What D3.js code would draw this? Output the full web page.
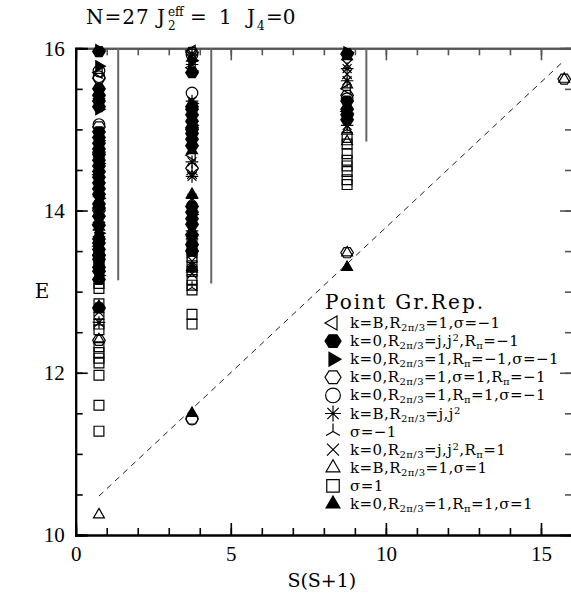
<!DOCTYPE html>
<html>
<head>
<meta charset="utf-8">
<script src="https://cdn.jsdelivr.net/npm/d3@7"></script>
<style>
  body { margin: 0; background: #fff; }
  svg { display: block; }
</style>
</head>
<body>
<div id="chart"></div>
<script>
// S(S+1) for S = 1/2, 3/2, 5/2, 7/2
const sValues = [0.75, 3.75, 8.75, 15.75];

// energies per S column, one array per symmetry sector
const kB_R1_sigM = [[15.7, 14.44, 13.56, 13.83], [15.97, 15.76, 14.68], [15.5, 15.22], []];
const k0_Rj_RpiM = [
  [15.96, 15.5, 15.42, 15.35, 15.28, 14.97, 14.9, 14.83, 14.76, 14.69, 14.62, 14.55, 14.48, 14.41,
   14.34, 14.27, 14.2, 14.08, 14.03, 13.93, 13.82, 13.65, 13.6, 13.52, 13.45, 13.4, 13.3, 13.25, 13.15, 12.8],
  [15.7, 15.28, 15.25, 15.18, 15.1, 15.02, 14.95, 14.88, 14.8, 14.05, 13.98, 13.9, 13.83, 13.7, 13.58, 13.5],
  [15.93, 15.35, 15.25, 15.18, 15.12], []];
const k0_R1_RpiM_sigM = [[15.98, 15.78, 15.25, 14.86, 14.58, 14.15, 13.72, 13.2], [15.85, 15.72, 15.32, 15.05, 13.95], [15.95, 15.2], []];
const k0_R1_sigP_RpiM = [[15.63, 15.03, 14.72, 14.0, 13.45, 12.4], [15.95, 15.0, 14.52, 11.43], [15.42, 13.48], [15.62]];
const k0_R1_RpiP_sigM = [[15.72, 15.65, 15.06], [15.92, 15.45, 11.43], [15.38], []];
const kB_Rj = [[15.38, 14.17, 14.02, 13.85, 13.76, 13.68, 12.62], [15.93, 15.8, 15.35, 14.6, 14.42, 14.15, 13.75, 13.65], [15.75, 15.6, 15.05], []];
const sigM = [[14.3, 13.9, 13.72, 12.78], [14.48, 14.12, 13.45, 13.05], [15.0], []];
const k0_Rj_RpiP = [[14.52, 14.38, 14.12, 13.97, 13.88, 13.78, 12.75], [15.9, 14.45, 13.78, 13.38, 13.22], [15.8, 15.68], []];
const kB_R1_sigP = [[15.45, 13.8, 12.41, 10.25], [15.88, 13.72, 13.3], [15.55, 14.98, 14.85, 13.48], [15.62]];
const sigP = [
  [13.45, 13.38, 13.34, 13.1, 13.04, 12.85, 12.72, 12.6, 12.53, 12.32, 12.25, 12.18, 12.12, 11.97, 11.6, 11.28],
  [13.62, 13.5, 13.42, 13.32, 13.25, 13.15, 13.08, 13.02, 12.72, 12.6],
  [14.9, 14.82, 14.7, 14.62, 14.55, 14.48, 14.38, 14.32], []];
const k0_R1_RpiP_sigP = [[14.7, 14.3, 13.47, 12.82], [14.74, 14.2, 13.87, 13.55, 13.28, 11.5], [15.9, 13.3], []];

const legendLabels = [
  "k=B,R_{2π/3}=1,σ=−1",
  "k=0,R_{2π/3}=j,j^{2},R_{π}=−1",
  "k=0,R_{2π/3}=1,R_{π}=−1,σ=−1",
  "k=0,R_{2π/3}=1,σ=1,R_{π}=−1",
  "k=0,R_{2π/3}=1,R_{π}=1,σ=−1",
  "k=B,R_{2π/3}=j,j^{2}",
  "σ=−1",
  "k=0,R_{2π/3}=j,j^{2},R_{π}=1",
  "k=B,R_{2π/3}=1,σ=1",
  "σ=1",
  "k=0,R_{2π/3}=1,R_{π}=1,σ=1"
];
const shapes = ["triLeft", "hexFill", "triRightFill", "hex", "circle", "star", "wye", "times", "triUp", "square", "triUpFill"];

// gray marker lines (x, bottom energy) and the dashed guide line
const markX = [1.37, 4.37, 9.37];
const markBottom = [13.14, 13.1, 14.85];
const guideLine = [[0.75, 10.48], [15.75, 15.85]];

const xTicksMajor = [0, 5, 10, 15];
const yTicksMajor = [10, 12, 14, 16];

const series = [kB_R1_sigM, k0_Rj_RpiM, k0_R1_RpiM_sigM, k0_R1_sigP_RpiM, k0_R1_RpiP_sigM, kB_Rj,
  sigM, k0_Rj_RpiP, kB_R1_sigP, sigP, k0_R1_RpiP_sigP].map((cols, i) => ({
    shape: shapes[i],
    label: legendLabels[i],
    points: cols.flatMap((es, c) => es.map(e => ({s: sValues[c], e})))
  }));

const W = 571, H = 601;
const serif = "'DejaVu Serif', serif";
const numFont = "'Liberation Serif', serif";

const svg = d3.select("#chart").append("svg")
    .attr("width", W)
    .attr("height", H);

const x = d3.scaleLinear().domain([0, 16]).range([75.7, 572]);
const y = d3.scaleLinear().domain([10, 16]).range([535, 48.3]);

function shapePath(kind, r) {
    const p = d3.path();
    const poly = pts => { p.moveTo(pts[0][0], pts[0][1]); pts.slice(1).forEach(q => p.lineTo(q[0], q[1])); p.closePath(); };
    const rot = (ang) => d3.range(3).map(k => {
        const a = ang + k * 2 * Math.PI / 3;
        return [r * Math.cos(a), r * Math.sin(a)];
    });
    if (kind === "hex" || kind === "hexFill") {
        poly(d3.range(6).map(k => [r * Math.cos(k * Math.PI / 3), r * 0.92 * Math.sin(k * Math.PI / 3)]));
    } else if (kind === "circle") {
        p.arc(0, 0, r * 0.92, 0, 2 * Math.PI);
    } else if (kind === "triUp" || kind === "triUpFill") {
        poly(rot(-Math.PI / 2));
    } else if (kind === "triLeft") {
        poly(rot(Math.PI));
    } else if (kind === "triRightFill") {
        poly(rot(0));
    } else if (kind === "square") {
        const h = r * 0.78;
        poly([[-h, -h], [h, -h], [h, h], [-h, h]]);
    } else if (kind === "star") {
        for (let k = 0; k < 4; k++) {
            const a = k * Math.PI / 4;
            p.moveTo(-r * Math.cos(a), -r * Math.sin(a));
            p.lineTo(r * Math.cos(a), r * Math.sin(a));
        }
    } else if (kind === "wye") {
        [-Math.PI / 2, Math.PI / 6, 5 * Math.PI / 6].forEach(a => {
            p.moveTo(0, 0);
            p.lineTo(r * Math.cos(a), r * Math.sin(a));
        });
    } else if (kind === "times") {
        const h = r * 0.75;
        p.moveTo(-h, -h); p.lineTo(h, h);
        p.moveTo(-h, h); p.lineTo(h, -h);
    }
    return p.toString();
}

function drawSymbol(g, kind, r) {
    const filled = kind.endsWith("Fill");
    g.append("path")
        .attr("d", shapePath(kind, r))
        .attr("fill", filled ? "#000" : "none")
        .attr("stroke", "#000")
        .attr("stroke-width", 1.2);
}

// axes: bottom & left black, top & right gray
function axisPair(axisFn, scale, minorVals, majorVals, translate, color, withLabels) {
    const gMinor = svg.append("g").attr("transform", translate)
        .call(axisFn(scale).tickValues(minorVals).tickSize(-7).tickFormat(""));
    const gMajor = svg.append("g").attr("transform", translate)
        .call(axisFn(scale).tickValues(majorVals).tickSize(-12).tickPadding(11)
            .tickFormat(withLabels ? d3.format("d") : ""));
    [gMinor, gMajor].forEach(g => {
        g.selectAll("line").attr("stroke", color).attr("stroke-width", 1.6);
        g.select(".domain").attr("stroke", color).attr("stroke-width", 2);
        g.selectAll("text").attr("fill", "#000").style("font-family", numFont).style("font-size", "21px");
    });
    return gMajor;
}

const xMinor = d3.range(0, 17);
const yMinor = d3.range(10, 16.01, 0.5);
axisPair(d3.axisTop, x, xMinor, xTicksMajor, `translate(0,${y(16)})`, "#555", false);
axisPair(d3.axisRight, y, yMinor, yTicksMajor, `translate(${x(16)},0)`, "#555", false);
axisPair(d3.axisBottom, x, xMinor, xTicksMajor, `translate(0,${y(10)})`, "#000", true);
axisPair(d3.axisLeft, y, yMinor, yTicksMajor, `translate(${x(0)},0)`, "#000", true);

// gray vertical marker lines
svg.append("g").selectAll("line")
    .data(markX)
    .join("line")
    .attr("x1", d => x(d)).attr("x2", d => x(d))
    .attr("y1", y(16)).attr("y2", (d, i) => y(markBottom[i]))
    .attr("stroke", "#666")
    .attr("stroke-width", 2);

// dashed guide
svg.append("path")
    .datum(guideLine)
    .attr("d", d3.line().x(d => x(d[0])).y(d => y(d[1])))
    .attr("fill", "none")
    .attr("stroke", "#222")
    .attr("stroke-width", 1)
    .attr("stroke-dasharray", "6,5");

// data points
series.forEach(sr => {
    const g = svg.append("g");
    sr.points.forEach(pt => {
        const sg = g.append("g").attr("transform", `translate(${x(pt.s)},${y(pt.e)})`);
        drawSymbol(sg, sr.shape, 6.3);
    });
});

function rich(text, str, small) {
    let off = 0;
    const re = /([_^])\{([^}]*)\}|([^_^]+)/g;
    let m;
    while ((m = re.exec(str))) {
        if (m[3]) {
            text.append("tspan").attr("dy", -off).text(m[3]);
            off = 0;
        } else {
            const d = m[1] === "_" ? 3 : -5;
            text.append("tspan").attr("dy", d - off).attr("font-size", small).text(m[2]);
            off = d;
        }
    }
}

// legend
svg.append("text")
    .attr("x", 325).attr("y", 309)
    .style("font-family", serif)
    .style("font-size", "20px")
    .style("letter-spacing", "2px")
    .text("Point Gr.Rep.");

const legend = svg.append("g");
series.forEach((sr, i) => {
    const cy = 323 + i * 18.1;
    drawSymbol(legend.append("g").attr("transform", `translate(333,${cy})`), sr.shape, 8);
    const t = legend.append("text")
        .attr("x", 350).attr("y", cy + 5)
        .style("font-family", serif)
        .style("font-size", "15px")
        .style("letter-spacing", "0.45px");
    rich(t, sr.label, "10px");
});

// axis titles
svg.append("text")
    .attr("x", (x(0) + x(16)) / 2 - 2).attr("y", 587)
    .attr("text-anchor", "middle")
    .style("font-family", serif)
    .style("font-size", "19px")
    .text("S(S+1)");
svg.append("text")
    .attr("x", 42).attr("y", 298)
    .attr("text-anchor", "middle")
    .style("font-family", serif)
    .style("font-size", "20px")
    .text("E");

// title
const title = svg.append("g").style("font-family", serif).style("font-size", "20px");
title.append("text").attr("x", 86).attr("y", 24).style("letter-spacing", "1px").text("N=27");
title.append("text").attr("x", 157).attr("y", 24).text("J");
title.append("text").attr("x", 168).attr("y", 16).style("font-size", "12px").text("eff");
title.append("text").attr("x", 168).attr("y", 30).style("font-size", "12px").text("2");
title.append("text").attr("x", 190).attr("y", 24).text("=");
title.append("text").attr("x", 219).attr("y", 24).text("1");
title.append("text").attr("x", 247).attr("y", 24).text("J");
title.append("text").attr("x", 257).attr("y", 30).style("font-size", "12px").text("4");
title.append("text").attr("x", 266).attr("y", 24).text("=0");
</script>
</body>
</html>
